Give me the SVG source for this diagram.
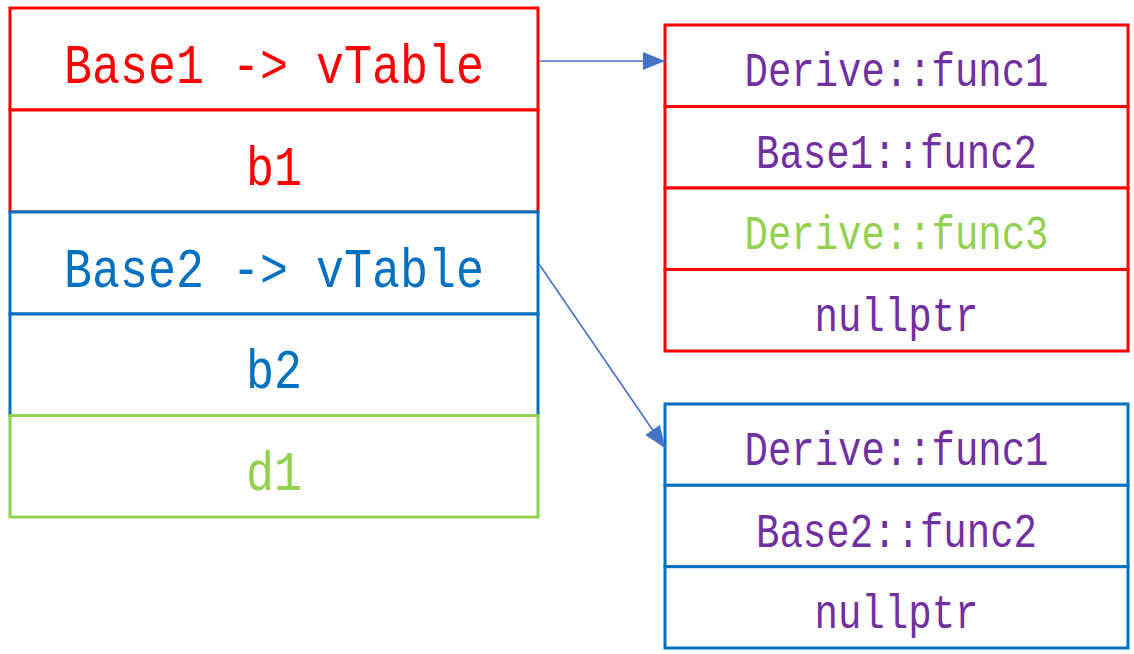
<svg xmlns="http://www.w3.org/2000/svg" width="1134" height="654" viewBox="0 0 1134 654">
<style>
  .cell { fill: #FFFFFF; stroke-width: 3; }
  .red { stroke: #FF0000; }
  .blue { stroke: #0070C0; }
  .green { stroke: #92D050; }
  .lt { font-family: "Liberation Mono", "DejaVu Sans Mono", monospace; font-size: 56px; text-anchor: middle; }
  .rt { font-family: "Liberation Mono", "DejaVu Sans Mono", monospace; font-size: 48px; text-anchor: middle; fill: #7030A0; }
  .conn { stroke: #4472C4; stroke-width: 1.6; fill: none; }
</style>
<defs>
  <marker id="arrow" markerWidth="12" markerHeight="10" refX="12" refY="5" orient="auto" markerUnits="userSpaceOnUse" viewBox="0 0 12 10">
    <path d="M0,0 L12,5 L0,10 Z" fill="#4472C4"/>
  </marker>
  <marker id="arrowHead" viewBox="0 0 22 18" refX="22" refY="9" markerWidth="22" markerHeight="18" orient="auto" markerUnits="userSpaceOnUse">
    <path d="M0,0 L22,9 L0,18 Z" fill="#4472C4"/>
  </marker>
</defs>
<rect width="1134" height="654" fill="#FFFFFF"/>

<g id="object">
  <g id="base1-vptr">
    <rect class="cell red" x="10" y="8" width="528" height="102"/>
    <text class="lt" x="274" y="83" fill="#FF0000" textLength="420" lengthAdjust="spacingAndGlyphs">Base1 -&gt; vTable</text>
  </g>
  <g id="b1">
    <rect class="cell red" x="10" y="110" width="528" height="102"/>
    <text class="lt" x="274" y="185" fill="#FF0000" textLength="56" lengthAdjust="spacingAndGlyphs">b1</text>
  </g>
  <g id="base2-vptr">
    <rect class="cell blue" x="10" y="212" width="528" height="102"/>
    <text class="lt" x="274" y="287" fill="#0070C0" textLength="420" lengthAdjust="spacingAndGlyphs">Base2 -&gt; vTable</text>
  </g>
  <g id="b2">
    <rect class="cell blue" x="10" y="314" width="528" height="101.5"/>
    <text class="lt" x="274" y="388" fill="#0070C0" textLength="56" lengthAdjust="spacingAndGlyphs">b2</text>
  </g>
  <g id="d1">
    <rect class="cell green" x="10" y="415.5" width="528" height="101.5"/>
    <text class="lt" x="274" y="490" fill="#92D050" textLength="56" lengthAdjust="spacingAndGlyphs">d1</text>
  </g>
</g>

<g id="vtable1">
  <g id="vt1-row1">
    <rect class="cell red" x="665" y="25" width="463" height="81.5"/>
    <text class="rt" x="896.5" y="86" textLength="304" lengthAdjust="spacingAndGlyphs">Derive::func1</text>
  </g>
  <g id="vt1-row2">
    <rect class="cell red" x="665" y="106.5" width="463" height="81.5"/>
    <text class="rt" x="896.5" y="167.5" textLength="281" lengthAdjust="spacingAndGlyphs">Base1::func2</text>
  </g>
  <g id="vt1-row3">
    <rect class="cell red" x="665" y="188" width="463" height="81.5"/>
    <text class="rt" x="896.5" y="249" fill="#92D050" textLength="304" lengthAdjust="spacingAndGlyphs" style="fill:#92D050">Derive::func3</text>
  </g>
  <g id="vt1-row4">
    <rect class="cell red" x="665" y="269.5" width="463" height="81.5"/>
    <text class="rt" x="896.5" y="330.5" textLength="164" lengthAdjust="spacingAndGlyphs">nullptr</text>
  </g>
</g>

<g id="vtable2">
  <g id="vt2-row1">
    <rect class="cell blue" x="665" y="404" width="463" height="81.3"/>
    <text class="rt" x="896.5" y="465" textLength="304" lengthAdjust="spacingAndGlyphs">Derive::func1</text>
  </g>
  <g id="vt2-row2">
    <rect class="cell blue" x="665" y="485.3" width="463" height="81.4"/>
    <text class="rt" x="896.5" y="546.5" textLength="281" lengthAdjust="spacingAndGlyphs">Base2::func2</text>
  </g>
  <g id="vt2-row3">
    <rect class="cell blue" x="665" y="566.7" width="463" height="81.3"/>
    <text class="rt" x="896.5" y="628" textLength="164" lengthAdjust="spacingAndGlyphs">nullptr</text>
  </g>
</g>

<g id="connectors">
  <line class="conn" x1="539" y1="61" x2="665" y2="61" marker-end="url(#arrowHead)"/>
  <line class="conn" x1="539" y1="264" x2="665" y2="448" marker-end="url(#arrowHead)"/>
</g>
</svg>
